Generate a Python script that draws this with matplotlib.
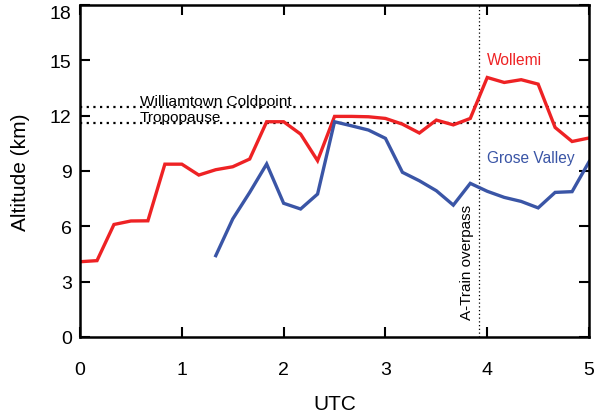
import numpy as np
import matplotlib
matplotlib.use("Agg")
import matplotlib.pyplot as plt

plt.rcParams['font.family'] = ['Liberation Sans', 'DejaVu Sans']

# Data (10-minute steps, hours UTC)
red_time = [0, 1/6, 2/6, 3/6, 4/6, 5/6, 1, 7/6, 8/6, 9/6, 10/6, 11/6, 2, 13/6, 14/6,
            15/6, 16/6, 17/6, 3, 19/6, 20/6, 21/6, 22/6, 23/6, 4, 25/6, 26/6, 27/6,
            28/6, 29/6, 5]
wollemi = [4.08, 4.14, 6.10, 6.29, 6.30, 9.37, 9.37, 8.78, 9.07, 9.23, 9.65, 11.67,
           11.67, 11.00, 9.56, 11.96, 11.96, 11.94, 11.85, 11.54, 11.06, 11.76, 11.50,
           11.85, 14.07, 13.80, 13.95, 13.71, 11.36, 10.60, 10.79]
blue_time = [8/6, 9/6, 10/6, 11/6, 2, 13/6, 14/6, 15/6, 16/6, 17/6, 3, 19/6, 20/6,
             21/6, 22/6, 23/6, 4, 25/6, 26/6, 27/6, 28/6, 29/6, 5]
grose = [4.41, 6.40, 7.84, 9.38, 7.25, 6.94, 7.75, 11.67, 11.45, 11.22, 10.77, 8.93,
         8.47, 7.93, 7.15, 8.33, 7.90, 7.57, 7.35, 7.00, 7.84, 7.88, 9.50]
coldpoint = 12.45
tropopause = 11.6
overpass = 3.92
x_ticks = [0, 1, 2, 3, 4, 5]
y_ticks = [0, 3, 6, 9, 12, 15, 18]

red = '#EE2224'
blue = '#3A55A6'

fig = plt.figure(figsize=(5.95, 4.14), dpi=100)
ax = fig.add_axes([0.1345, 0.1836, 0.8555, 0.8019])

ax.axhline(coldpoint, color='black', linestyle=(0, (1, 2)), lw=1.6)
ax.axhline(tropopause, color='black', linestyle=(0, (1, 2)), lw=1.6)
ax.axvline(overpass, color='black', linestyle=(0, (1, 2)), lw=0.9)

ax.plot(red_time, wollemi, color=red, lw=2.4, solid_joinstyle='miter')
ax.plot(blue_time, grose, color=blue, lw=2.4, solid_joinstyle='miter')

ax.text(0.59, 12.6, 'Williamtown Coldpoint', fontsize=11.1, ha='left', va='baseline')
ax.text(0.59, 11.95, 'Tropopause', fontsize=11.1, ha='left', va='center')
ax.text(4.0, 15.03, 'Wollemi', fontsize=11.2, color=red, ha='left', va='center')
ax.text(4.0, 9.74, 'Grose Valley', fontsize=11.2, color=blue, ha='left', va='center')
ax.text(3.80, 4.09, 'A-Train overpass', fontsize=11, rotation=90, ha='center', va='center')

ax.set_xlim(0, 5)
ax.set_ylim(0, 18)
ax.set_xticks(x_ticks)
ax.set_yticks(y_ticks)
ax.tick_params(direction='in', length=7, width=1.5, labelsize=14,
               top=True, right=True)
ax.tick_params(axis='x', pad=17)
ax.tick_params(axis='y', pad=6)
ax.yaxis.get_major_ticks()[-1].label1.set_verticalalignment('top')
for s in ax.spines.values():
    s.set_linewidth(1.8)
ax.set_xlabel('UTC', fontsize=15, labelpad=12)
ax.set_ylabel('Altitude (km)', fontsize=15, labelpad=14)

fig.savefig('out.png', dpi=100)
